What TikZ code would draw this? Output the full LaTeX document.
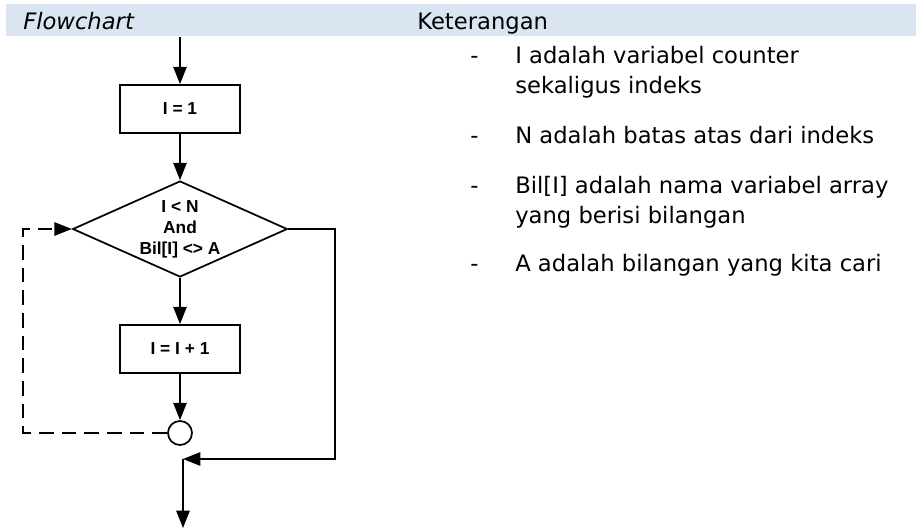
\documentclass[tikz,border=0pt]{standalone}
\usepackage{fontspec}
\setmainfont{DejaVu Sans}
\newfontfamily\chartfont{Liberation Sans}
\usetikzlibrary{arrows.meta,shapes.geometric}
\definecolor{bandblue}{RGB}{219,229,241}
\tikzset{
  flowline/.style={line width=1.3pt, -{Triangle[length=13pt,width=10pt]}},
  procbox/.style={draw, line width=1.3pt, rectangle, minimum width=90pt, minimum height=36pt,
    font=\chartfont\bfseries\fontsize{13}{15.75}\selectfont},
  testbox/.style={draw, line width=1.3pt, diamond, aspect=2.24, inner sep=0pt,
    minimum width=161pt, minimum height=72pt, align=center,
    font=\chartfont\bfseries\fontsize{13}{15.75}\selectfont},
  joinpt/.style={draw, line width=1.3pt, circle, fill=white, inner sep=0pt, minimum size=18pt},
  listtext/.style={anchor=base west, inner sep=0pt, align=left, font=\fontsize{17}{22.5}\selectfont}
}
\begin{document}
\begin{tikzpicture}[x=0.75pt, y=-0.75pt]
  \useasboundingbox (0,0) rectangle (916,529);
  % header band
  \fill[bandblue] (6,4) rectangle (916,36);
  \node[anchor=base west, inner sep=0pt, font=\itshape\fontsize{17}{20}\selectfont] (hflow) at (23,29) {Flowchart};
  \node[anchor=base west, inner sep=0pt, font=\fontsize{17}{20}\selectfont] (hket) at (417,29) {Keterangan};

  % flowchart nodes
  \coordinate (start) at (180,37);
  \node[procbox] (init) at (180,109) {I = 1};
  \node[testbox] (cond) at (180,229) {I < N\\And\\Bil[I] <> A};
  \node[procbox] (incr) at (180,349) {I = I + 1};
  \node[joinpt] (join) at (180,433) {};
  \coordinate (loopB) at (23,433);
  \coordinate (loopT) at (23,229);
  \coordinate (exitR) at (335,229);
  \coordinate (exitB) at (335,459);
  \coordinate (merge) at (183,459);
  \coordinate (finish) at (183,528);

  % connectors
  \draw[flowline] (start) -- (init);
  \draw[flowline] (init) -- (cond);
  \draw[flowline] (cond) -- (incr);
  \draw[flowline] (incr) -- (join);
  \draw[flowline, dash pattern=on 11pt off 6pt] (join) -- (loopB) -- (loopT) -- (cond);
  \draw[flowline] (cond.east) -- (exitR) -- (exitB) -- (merge);
  \draw[flowline] (merge) -- (finish);

  % keterangan (nodes sit on the baseline of their last line)
  \node[listtext] (d1) at (470,63) {-};
  \node[listtext] (t1) at (515,93) {I adalah variabel counter\\sekaligus indeks};
  \node[listtext] (d2) at (470,143) {-};
  \node[listtext] (t2) at (515,143) {N adalah batas atas dari indeks};
  \node[listtext] (d3) at (470,193) {-};
  \node[listtext] (t3) at (515,223) {Bil[I] adalah nama variabel array\\yang berisi bilangan};
  \node[listtext] (d4) at (470,271) {-};
  \node[listtext] (t4) at (515,271) {A adalah bilangan yang kita cari};
\end{tikzpicture}
\end{document}
